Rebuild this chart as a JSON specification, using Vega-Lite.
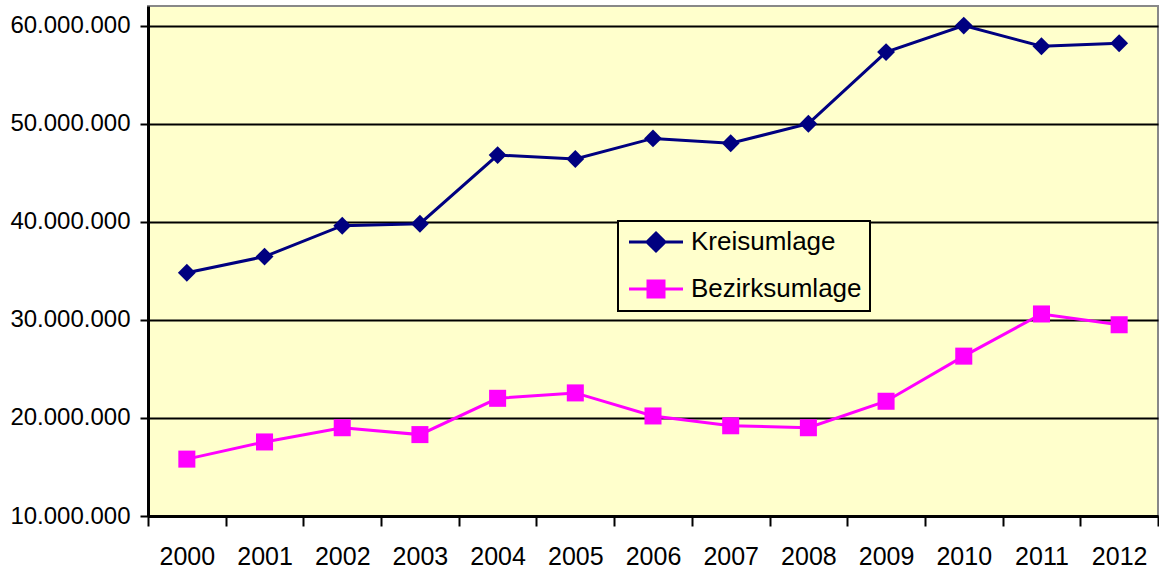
{
  "$schema": "https://vega.github.io/schema/vega-lite/v6.json",
  "autosize": "none",
  "padding": {"left": 148, "top": 6, "right": 1, "bottom": 58},
  "width": 1010,
  "height": 510,
  "background": "white",
  "config": {
    "font": "Liberation Sans",
    "view": {"fill": "#FFFFCC", "stroke": "#888888", "strokeWidth": 2}
  },
  "data": {
    "values": [
      {"Jahr": "2000", "Reihe": "Kreisumlage", "Wert": 34800000},
      {"Jahr": "2001", "Reihe": "Kreisumlage", "Wert": 36450000},
      {"Jahr": "2002", "Reihe": "Kreisumlage", "Wert": 39600000},
      {"Jahr": "2003", "Reihe": "Kreisumlage", "Wert": 39800000},
      {"Jahr": "2004", "Reihe": "Kreisumlage", "Wert": 46800000},
      {"Jahr": "2005", "Reihe": "Kreisumlage", "Wert": 46400000},
      {"Jahr": "2006", "Reihe": "Kreisumlage", "Wert": 48500000},
      {"Jahr": "2007", "Reihe": "Kreisumlage", "Wert": 48000000},
      {"Jahr": "2008", "Reihe": "Kreisumlage", "Wert": 50000000},
      {"Jahr": "2009", "Reihe": "Kreisumlage", "Wert": 57300000},
      {"Jahr": "2010", "Reihe": "Kreisumlage", "Wert": 60000000},
      {"Jahr": "2011", "Reihe": "Kreisumlage", "Wert": 57900000},
      {"Jahr": "2012", "Reihe": "Kreisumlage", "Wert": 58200000},
      {"Jahr": "2000", "Reihe": "Bezirksumlage", "Wert": 15800000},
      {"Jahr": "2001", "Reihe": "Bezirksumlage", "Wert": 17550000},
      {"Jahr": "2002", "Reihe": "Bezirksumlage", "Wert": 19000000},
      {"Jahr": "2003", "Reihe": "Bezirksumlage", "Wert": 18300000},
      {"Jahr": "2004", "Reihe": "Bezirksumlage", "Wert": 22000000},
      {"Jahr": "2005", "Reihe": "Bezirksumlage", "Wert": 22550000},
      {"Jahr": "2006", "Reihe": "Bezirksumlage", "Wert": 20200000},
      {"Jahr": "2007", "Reihe": "Bezirksumlage", "Wert": 19200000},
      {"Jahr": "2008", "Reihe": "Bezirksumlage", "Wert": 19000000},
      {"Jahr": "2009", "Reihe": "Bezirksumlage", "Wert": 21700000},
      {"Jahr": "2010", "Reihe": "Bezirksumlage", "Wert": 26300000},
      {"Jahr": "2011", "Reihe": "Bezirksumlage", "Wert": 30600000},
      {"Jahr": "2012", "Reihe": "Bezirksumlage", "Wert": 29500000}
    ]
  },
  "encoding": {
    "x": {
      "field": "Jahr", "type": "ordinal",
      "scale": {"type": "band", "paddingInner": 0, "paddingOuter": 0},
      "axis": {
        "title": null, "labelAngle": 0, "tickBand": "extent",
        "domainColor": "black", "domainWidth": 3,
        "tickColor": "black", "tickWidth": 2, "tickSize": 10,
        "labelFontSize": 25, "labelColor": "black", "labelPadding": 18,
        "labelBaseline": "top", "grid": false
      }
    },
    "y": {
      "field": "Wert", "type": "quantitative",
      "scale": {"domain": [10000000, 62000000], "nice": false, "zero": false},
      "axis": {
        "title": null, "values": [10000000, 20000000, 30000000, 40000000, 50000000, 60000000],
        "labelExpr": "replace(format(datum.value, ','), /,/g, '.')",
        "domainColor": "black", "domainWidth": 3,
        "tickColor": "black", "tickWidth": 2, "tickSize": 8,
        "labelFontSize": 24, "labelColor": "black", "labelPadding": 10,
        "grid": true, "gridColor": "black", "gridWidth": 2, "gridOpacity": 1
      }
    },
    "color": {
      "field": "Reihe", "type": "nominal",
      "scale": {"domain": ["Kreisumlage", "Bezirksumlage"], "range": ["#000080", "#FF00FF"]},
      "legend": {
        "title": null, "orient": "none", "legendX": 470, "legendY": 215,
        "fillColor": "#FFFFCC", "strokeColor": "black",
        "padding": 8, "rowPadding": 18, "labelFontSize": 26, "labelColor": "black",
        "labelLimit": 400,
        "symbolSize": 400, "symbolOffset": 17, "labelOffset": 22,
        "symbolStrokeWidth": 3,
        "encode": {
          "legend": {"update": {"strokeWidth": {"value": 2}}},
          "symbols": {
            "update": {
              "shape": {"signal": "datum.value === 'Kreisumlage' ? 'M-2.7,0L2.7,0M0,-0.9L0.9,0L0,0.9L-0.9,0Z' : 'M-2.7,0L2.7,0M-0.8,-0.8L0.8,-0.8L0.8,0.8L-0.8,0.8Z'"},
              "fill": {"signal": "datum.value === 'Kreisumlage' ? '#000080' : '#FF00FF'"},
              "stroke": {"signal": "datum.value === 'Kreisumlage' ? '#000080' : '#FF00FF'"},
              "strokeWidth": {"value": 3},
              "opacity": {"value": 1},
              "fillOpacity": {"value": 1},
              "strokeOpacity": {"value": 1}
            }
          }
        }
      }
    }
  },
  "layer": [
    {"mark": {"type": "line", "strokeWidth": 3}},
    {
      "transform": [{"filter": "datum.Reihe === 'Kreisumlage'"}],
      "mark": {"type": "point", "filled": true, "opacity": 1, "size": 320, "shape": "diamond"}
    },
    {
      "transform": [{"filter": "datum.Reihe === 'Bezirksumlage'"}],
      "mark": {"type": "point", "filled": true, "opacity": 1, "size": 290, "shape": "square"}
    }
  ]
}
